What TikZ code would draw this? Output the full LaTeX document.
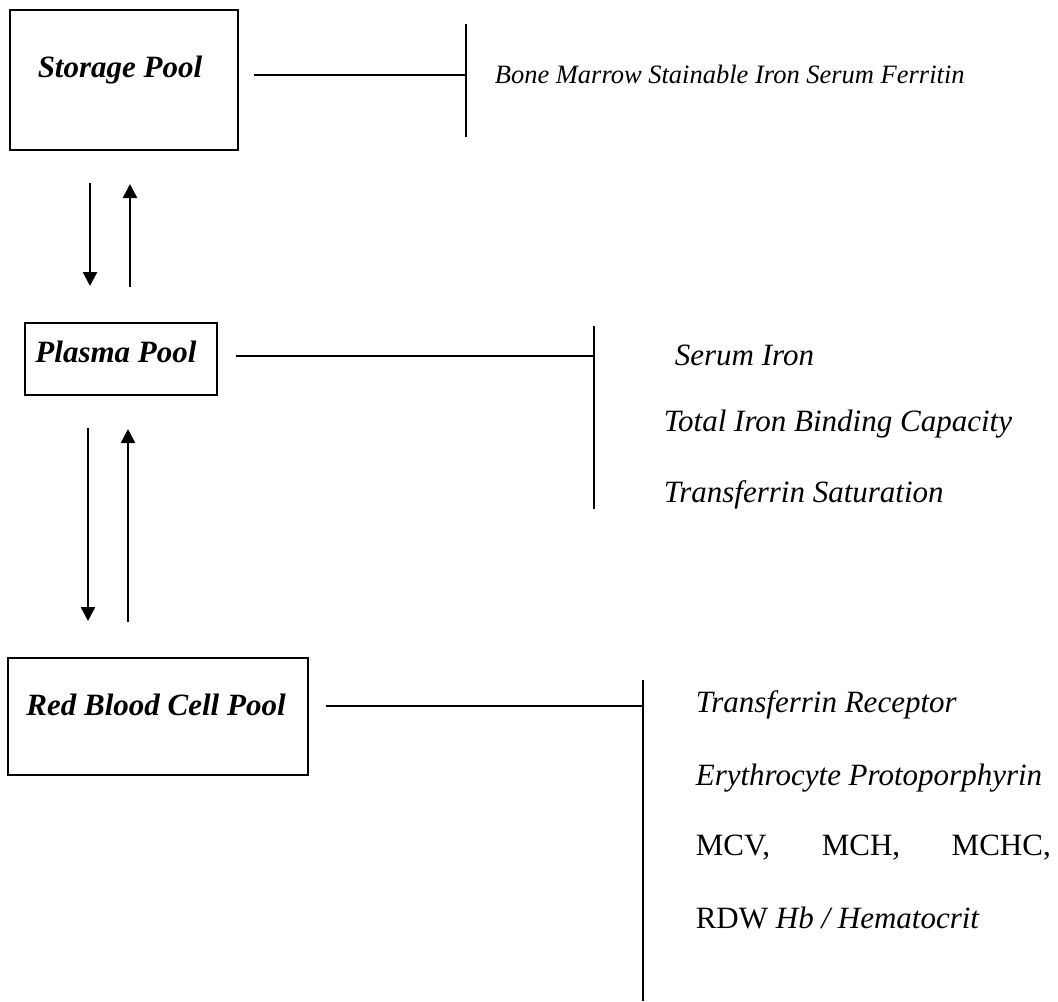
\documentclass[tikz,border=0pt]{standalone}
\usepackage{fontspec}
\setmainfont{Liberation Serif}
\usetikzlibrary{arrows.meta,calc}
\begin{document}
\begin{tikzpicture}
[x=0.5pt,y=-0.5pt,thick,%
  pool/.style={shape=rectangle,draw,line width=1pt,inner sep=0pt},%
  pooltxt/.style={inner sep=0pt,font=\fontsize{15.5}{18}\selectfont\bfseries\itshape},%
  item/.style={inner sep=0pt,anchor=west,font=\fontsize{15.5}{18}\selectfont\itshape},%
  link/.style={line width=1pt},%
  flow/.style={line width=1.2pt,-{Triangle[length=7pt,width=7pt]}}]
\useasboundingbox (0,0) rectangle (1058,1001);
% the three pools
\node[pool,minimum width=114pt,minimum height=70pt] (storage) at (124,80) {};
\node[pooltxt] (storagetxt) at (120,70) {Storage Pool};
\node[pool,minimum width=96pt,minimum height=36pt] (plasma) at (121,359) {};
\node[pooltxt] (plasmatxt) at (116,352) {Plasma Pool};
\node[pool,minimum width=150pt,minimum height=58.5pt] (rbc) at (158,716.5) {};
\node[pooltxt] (rbctxt) at (156,705) {Red Blood Cell Pool};
% exchange between pools
\draw[flow] ($(storage.south)+(-34,32)$) -- ($(plasma.north)+(-31,-36)$);
\draw[flow] ($(plasma.north)+(9,-35)$) -- ($(storage.south)+(6,33)$);
\draw[flow] ($(plasma.south)+(-33,32)$) -- ($(rbc.north)+(-70,-36)$);
\draw[flow] ($(rbc.north)+(-30,-35)$) -- ($(plasma.south)+(7,33)$);
% storage measures
\coordinate (sbar) at (466,75);
\draw[link] ($(sbar)+(0,-51)$) -- ($(sbar)+(0,62)$);
\draw[link] ($(storage.east)+(15,-5)$) -- (sbar);
\node[item,font=\fontsize{13.25}{16}\selectfont\itshape] (ferritin) at (494,74)
  {Bone Marrow Stainable Iron Serum Ferritin};
% plasma measures
\coordinate (pbar) at (594,356);
\draw[link] ($(pbar)+(0,-30)$) -- ($(pbar)+(0,153)$);
\draw[link] ($(plasma.east)+(18,-3)$) -- (pbar);
\node[item] (serumiron) at (674,355) {Serum Iron};
\node[item] (tibc) at (663,424) {Total Iron Binding Capacity};
\node[item] (tsat) at (663,495) {Transferrin Saturation};
% red cell measures
\coordinate (rbar) at (643,706);
\draw[link] ($(rbar)+(0,-26)$) -- ($(rbar)+(0,295)$);
\draw[link] ($(rbc.east)+(17,-10.5)$) -- (rbar);
\node[item] (tfr) at (695,705) {Transferrin Receptor};
\node[item] (protop) at (695,778) {Erythrocyte Protoporphyrin};
\node[item,font=\fontsize{15.5}{18}\selectfont] (indices) at (695,848)
  {\makebox[177.5pt][s]{MCV, MCH, MCHC,}};
\node[item,font=\fontsize{15.5}{18}\selectfont] (rdw) at (695,918)
  {RDW \textit{Hb / Hematocrit}};
\end{tikzpicture}
\end{document}
